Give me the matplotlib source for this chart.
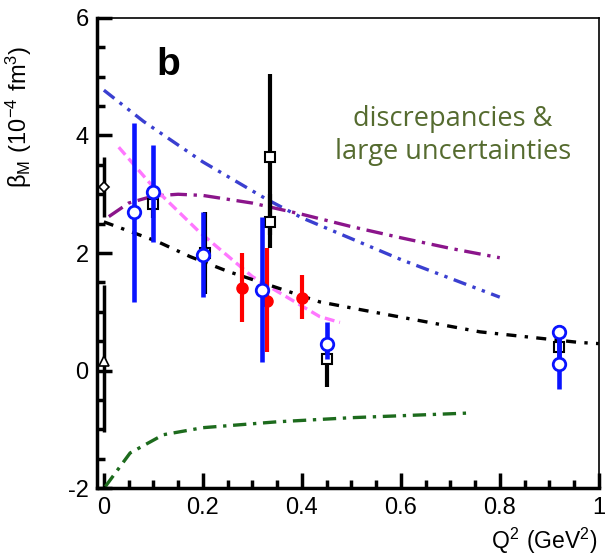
import matplotlib
matplotlib.use("Agg")
import matplotlib.pyplot as plt
from matplotlib.ticker import MultipleLocator

plt.rcParams["font.family"] = ["Liberation Sans", "DejaVu Sans"]

# theory curves (Q^2, beta_M)
blue_q2 = [0.0, 0.08, 0.2, 0.33, 0.4, 0.6, 0.8]
blue_b = [4.77, 4.24, 3.55, 2.91, 2.6, 1.89, 1.25]

purple_q2 = [0.01, 0.05, 0.1, 0.15, 0.2, 0.3, 0.4, 0.5, 0.6, 0.7, 0.8]
purple_b = [2.62, 2.85, 2.97, 3.0, 2.98, 2.85, 2.66, 2.45, 2.26, 2.08, 1.92]

pink_q2 = [0.03, 0.1, 0.194, 0.3, 0.4, 0.436, 0.477]
pink_b = [3.8, 3.12, 2.35, 1.6, 1.1, 0.92, 0.82]

black_q2 = [0.0, 0.107, 0.174, 0.25, 0.436, 0.517, 0.76, 0.96, 1.0]
black_b = [2.53, 2.2, 1.94, 1.69, 1.17, 1.04, 0.66, 0.48, 0.46]

green_q2 = [0.003, 0.053, 0.12, 0.2, 0.35, 0.5, 0.74]
green_b = [-1.97, -1.40, -1.09, -0.97, -0.87, -0.8, -0.72]

# data points: value, lower end, upper end of error bar
blue_x = [0.06, 0.1, 0.2, 0.32, 0.45, 0.92, 0.92]
blue_y = [2.69, 3.03, 1.97, 1.38, 0.46, 0.66, 0.12]
blue_lo = [1.16, 2.18, 1.26, 0.14, 0.2, 0.2, -0.32]
blue_hi = [4.22, 3.83, 2.69, 2.62, 0.83, 0.78, 0.6]

sq_x = [0.1, 0.205, 0.335, 0.335, 0.45, 0.92]
sq_y = [2.83, 2.0, 3.64, 2.52, 0.2, 0.41]
sq_lo = [2.6, 1.3, 2.3, 2.09, -0.27, 0.3]
sq_hi = [3.0, 2.7, 5.05, 3.0, 0.45, 0.5]

red_x = [0.28, 0.33, 0.4]
red_y = [1.41, 1.19, 1.24]
red_lo = [0.82, 0.32, 0.87]
red_hi = [2.0, 2.08, 1.62]

dia_x, dia_y, dia_lo, dia_hi = [0.0], [3.13], [2.62], [3.64]
tri_x, tri_y, tri_lo, tri_hi = [0.0], [0.16], [-1.05], [1.46]


def yerr(y, lo, hi):
    return [[v - l for v, l in zip(y, lo)], [h - v for v, h in zip(y, hi)]]


fig = plt.figure(figsize=(6.06, 5.58), dpi=100)
ax = fig.add_axes([0.160, 0.125, 0.828, 0.843])

ax.plot(blue_q2, blue_b, color="#3a3fd0", lw=2.4, dashes=(4, 2, 1, 2, 1, 2))
ax.plot(purple_q2, purple_b, color="#8b158b", lw=2.4, dashes=(5, 2, 1, 2))
ax.plot(pink_q2, pink_b, color="#ff77ff", lw=2.4, dashes=(3, 1.5))
ax.plot(black_q2, black_b, color="black", lw=2.4, dashes=(3, 2.5, 1, 2.5))
ax.plot(green_q2, green_b, color="#1d6b1d", lw=2.4, dashes=(4, 2, 1, 2))

ax.errorbar(tri_x, tri_y, yerr=yerr(tri_y, tri_lo, tri_hi), fmt="^", color="black",
            mfc="white", ms=7, mew=1.2, elinewidth=2.5, capsize=0)
ax.errorbar(dia_x, dia_y, yerr=yerr(dia_y, dia_lo, dia_hi), fmt="D", color="black",
            mfc="white", ms=5.5, mew=1.2, elinewidth=2.5, capsize=0)
ax.errorbar(sq_x, sq_y, yerr=yerr(sq_y, sq_lo, sq_hi), fmt="s", color="black",
            mfc="white", ms=7, mew=1.5, elinewidth=3, capsize=0, zorder=3)
ax.errorbar(red_x, red_y, yerr=yerr(red_y, red_lo, red_hi), fmt="o", color="#ff0000",
            ms=8, elinewidth=3, capsize=0, zorder=4)
ax.errorbar(blue_x, blue_y, yerr=yerr(blue_y, blue_lo, blue_hi), fmt="o", color="#0a14ff",
            mfc="white", ms=9, mew=2, elinewidth=3.3, capsize=0, zorder=5)

ax.set_xlim(-0.014, 1.0)
ax.set_ylim(-2, 6)
ax.xaxis.set_major_locator(MultipleLocator(0.2))
ax.xaxis.set_minor_locator(MultipleLocator(0.05))
ax.yaxis.set_major_locator(MultipleLocator(2))
ax.yaxis.set_minor_locator(MultipleLocator(0.5))
ax.tick_params(which="both", direction="in", top=False, right=False, labelsize=17, width=2.5)
ax.tick_params(which="major", length=11, pad=6)
ax.tick_params(which="minor", length=6)
ax.xaxis.set_major_formatter(plt.FuncFormatter(lambda v, p: "%g" % round(v, 2)))
ax.yaxis.set_major_formatter(plt.FuncFormatter(lambda v, p: "%d" % round(v)))

for side in ["left", "bottom"]:
    ax.spines[side].set_linewidth(2.5)
for side in ["top", "right"]:
    ax.spines[side].set_linewidth(1.2)

ax.set_ylabel(r"$\mathregular{\beta_M\ (10^{-4}\ fm^3)}$", fontsize=17)
ax.yaxis.set_label_coords(-0.125, 0.79)
ax.set_xlabel(r"$\mathregular{Q^2\ (GeV^2)}$", fontsize=16.5, ha="right", va="bottom")
ax.xaxis.set_label_coords(0.998, -0.145)

ax.text(0.13, 5.2, "b", fontsize=28, fontweight="bold", ha="center", va="center")
ax.text(0.705, 4.0, "discrepancies &\nlarge uncertainties", fontsize=19.5,
        color="#556b2f", ha="center", va="center", linespacing=1.2, family="Open Sans")

fig.savefig("out.png", dpi=100)
